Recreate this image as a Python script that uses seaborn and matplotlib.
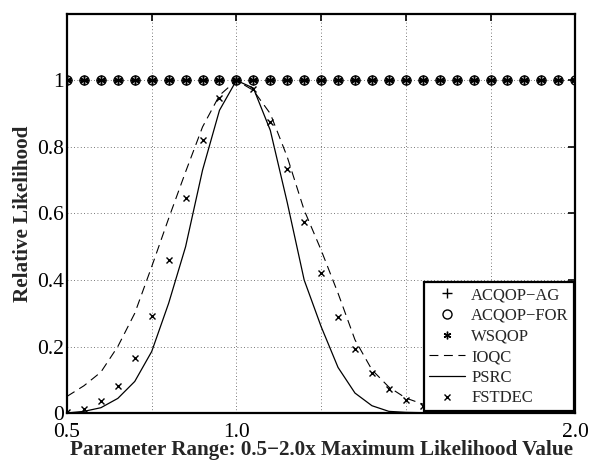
import numpy as np
import pandas as pd
import matplotlib
matplotlib.use("Agg")
import matplotlib.pyplot as plt
import seaborn as sns

# parameter scaling, 0.5 .. 2.0 step 0.05
x_vals = [round(0.5 + 0.05 * i, 2) for i in range(31)]

acqop_ag = [1.0] * 31
acqop_for = [1.0] * 31
wsqop = [1.0] * 31

ioqc = [0.05, 0.082, 0.123, 0.20, 0.30, 0.44, 0.585, 0.725, 0.86, 0.955, 1.0,
        0.97, 0.90, 0.77, 0.61, 0.49, 0.36, 0.22, 0.13, 0.078, 0.045,
        0.027, 0.015, 0.008, 0.004, 0.002, 0.001, 0.0005, 0.0, 0.0, 0.0]

psrc = [0.0, 0.005, 0.016, 0.044, 0.095, 0.185, 0.33, 0.50, 0.73, 0.91, 1.0,
        0.977, 0.85, 0.633, 0.40, 0.26, 0.137, 0.06, 0.022, 0.005, 0.002,
        0.001, 0.0, 0.0, 0.0, 0.0, 0.0, 0.0, 0.0, 0.0, 0.0]

fstdec = [0.004, 0.012, 0.036, 0.082, 0.165, 0.293, 0.461, 0.647, 0.82, 0.948, 1.0,
          0.974, 0.875, 0.733, 0.573, 0.422, 0.29, 0.193, 0.12, 0.071, 0.039,
          0.02, 0.01, 0.005, 0.004, 0.003, 0.003, 0.003, 0.003, 0.003, 0.003]

xtick_pos = [0.5, 0.75, 1.0, 1.25, 1.5, 1.75, 2.0]
xtick_lab = ["0.5", "", "1.0", "", "", "", "2.0"]
ytick_pos = [0, 0.2, 0.4, 0.6, 0.8, 1.0]
ytick_lab = ["0", "0.2", "0.4", "0.6", "0.8", "1"]

sns.set_style("white")
plt.rcParams["font.family"] = ["Liberation Serif", "DejaVu Serif"]

fig = plt.figure(figsize=(5.93, 4.62), dpi=100)
ax = fig.add_axes([0.113, 0.106, 0.857, 0.864])

# seaborn sets a white marker edge by default, so force black edges
mk = dict(color="black", linestyle="none", markeredgecolor="black")
sns.lineplot(x=x_vals, y=acqop_ag, ax=ax, marker="+", markersize=7,
             markeredgewidth=1.0, label="ACQOP\u2212AG", **mk)
sns.lineplot(x=x_vals, y=acqop_for, ax=ax, marker="o", markersize=6.5,
             markerfacecolor="none", markeredgewidth=1.0, label="ACQOP\u2212FOR", **mk)
sns.lineplot(x=x_vals, y=wsqop, ax=ax, marker=(6, 2, 0), markersize=5.5,
             markeredgewidth=1.0, label="WSQOP", **mk)
sns.lineplot(x=x_vals, y=ioqc, ax=ax, color="black", linewidth=0.8,
             linestyle=(0, (8, 5)), label="IOQC")
sns.lineplot(x=x_vals, y=psrc, ax=ax, color="black", linewidth=0.9,
             linestyle="-", label="PSRC")
sns.lineplot(x=x_vals, y=fstdec, ax=ax, marker="x", markersize=4.5,
             markeredgewidth=1.0, label="FSTDEC", **mk)

ax.set_xlim(0.5, 2.0)
ax.set_ylim(0, 1.2)
ax.set_xticks(xtick_pos)
ax.set_xticklabels(xtick_lab)
ax.set_yticks(ytick_pos)
ax.set_yticklabels(ytick_lab)
ax.tick_params(direction="in", length=5, width=1.2, top=True, right=True,
               labelsize=15.5, colors="black")
ax.tick_params(axis="x", pad=7)
ax.tick_params(axis="y", pad=2)
ax.grid(True, linestyle=(0, (1, 3)), color="black", linewidth=0.6, alpha=0.7)
for s in ax.spines.values():
    s.set_linewidth(1.6)
    s.set_color("black")

ax.set_xlabel("Parameter Range: 0.5\u22122.0x Maximum Likelihood Value",
              fontsize=15.2, fontweight="bold", labelpad=-1)
ax.set_ylabel("Relative Likelihood", fontsize=15.2, fontweight="bold", labelpad=3)

leg = ax.legend(loc="lower right", fontsize=12, frameon=True, fancybox=False,
                borderaxespad=0.1, handlelength=2.2, handletextpad=0.35,
                labelspacing=0.28, borderpad=0.3)
leg.get_frame().set_edgecolor("black")
leg.get_frame().set_linewidth(1.6)
leg.get_frame().set_alpha(1)

fig.savefig("out.png", dpi=100)
